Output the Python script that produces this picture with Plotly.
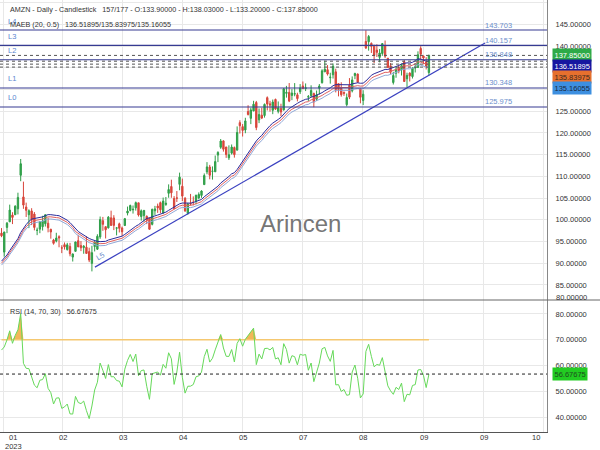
import numpy as np
import plotly.graph_objects as go

# ---------------- data (AMZN daily, 24 Jan 2023 .. 7 Sep 2023) ----------------
# 20 earlier closes (not shown) used by the MA / RSI indicators
warmup_closes = [83.79, 85.25, 83.04, 81.82, 84.18, 84.00, 85.82, 85.14, 83.12, 86.08,
                 87.36, 89.87, 95.09, 95.27, 98.12, 96.05, 95.46, 93.68, 97.25, 97.52]

opens = [
    96.93, 92.56, 98.24, 99.53, 101.09, 101.16,
    102.53, 110.25, 105.26, 102.93, 101.17, 102.04, 101.32, 97.56, 97.85, 98.41, 99.09, 99.21, 97.80, 95.34, 95.10, 96.12, 93.53, 94.28, 93.14,
    93.87, 91.41, 92.74, 95.19, 94.06, 93.60, 93.68, 92.67, 89.97, 93.83, 93.22, 96.06, 99.79, 98.41, 98.14, 100.45, 100.43, 98.07, 99.07, 98.11, 98.69, 101.55, 102.16,
    102.30, 102.75, 103.91, 100.75, 100.96, 100.80, 100.40, 98.95, 102.07, 103.16, 103.95, 101.58, 103.53, 106.10, 107.66, 104.91, 105.04, 108.16, 107.73,
    104.95, 101.47, 103.74, 104.04, 104.27, 105.04, 105.62, 108.10, 111.03, 112.16, 111.15, 111.05, 114.89, 116.69, 118.16, 116.77, 114.27, 115.35, 116.63, 116.04, 122.37, 121.45,
    120.69, 124.92, 123.36, 125.07, 127.01, 123.01, 124.08, 124.02, 128.12, 126.70, 125.21, 127.71, 124.97, 125.64, 125.31, 129.11, 129.33, 128.63, 128.94, 128.77, 129.47,
    130.82, 130.24, 128.25, 128.59, 129.07, 127.75, 130.31, 131.56, 134.06, 134.56, 132.71, 133.39, 134.07, 131.34, 130.31, 129.31, 126.51, 131.00, 129.69, 133.20,
    133.55, 130.15, 127.48, 141.06, 140.99, 140.62, 139.97, 139.07, 137.40, 138.30, 140.05, 137.19, 135.46, 131.62, 133.74, 135.08, 134.50, 136.40, 132.47, 133.78, 132.98, 134.93, 135.06,
    139.46, 137.73, 136.32, 133.90,
]
highs = [
    98.09, 97.24, 99.49, 103.49, 101.74, 103.35,
    106.24, 114.00, 108.78, 103.95, 102.41, 102.67, 101.78, 98.20, 99.68, 100.92, 101.17, 100.49, 97.94, 95.61, 97.01, 96.43, 94.14, 94.78, 94.69,
    94.68, 92.23, 94.96, 96.55, 95.09, 94.17, 96.21, 93.57, 94.02, 95.07, 96.67, 100.75, 100.66, 98.48, 100.85, 102.10, 101.06, 98.30, 99.34, 98.44, 100.42, 103.04, 103.49,
    103.29, 104.20, 103.91, 102.38, 102.20, 101.00, 100.51, 102.57, 103.20, 103.73, 104.20, 105.12, 105.25, 108.15, 109.23, 105.45, 106.62, 110.86, 109.48,
    105.23, 103.90, 105.96, 105.39, 105.76, 106.31, 106.79, 110.67, 113.28, 112.64, 112.29, 114.80, 115.79, 118.60, 118.31, 116.77, 117.14, 117.34, 116.87, 121.50, 122.92, 122.04,
    123.49, 126.38, 125.80, 127.40, 127.37, 125.63, 125.80, 126.78, 128.41, 127.39, 127.69, 127.90, 127.25, 126.73, 130.33, 130.84, 131.49, 130.09, 131.48, 129.26, 131.25,
    131.85, 131.40, 128.73, 130.97, 129.28, 129.77, 131.26, 134.67, 136.65, 135.62, 133.86, 135.99, 134.79, 131.37, 131.66, 129.58, 129.08, 132.63, 133.01, 133.87,
    133.69, 130.23, 129.84, 143.63, 142.54, 140.84, 140.32, 140.41, 139.33, 140.59, 141.28, 137.27, 136.09, 134.07, 135.19, 135.65, 135.95, 136.78, 133.87, 133.95, 135.14, 135.68, 138.79,
    139.96, 137.80, 137.45, 138.03,
]
lows = [
    96.00, 91.52, 96.92, 99.53, 99.01, 101.14,
    101.24, 108.88, 102.52, 100.65, 98.08, 98.78, 97.57, 96.46, 96.91, 97.52, 98.45, 97.11, 95.65, 94.27, 94.80, 93.67, 92.32, 93.14, 92.92,
    91.59, 90.39, 92.66, 93.74, 92.78, 92.18, 92.18, 90.25, 88.12, 92.71, 93.07, 95.61, 97.46, 95.70, 98.00, 98.61, 97.62, 96.40, 97.08, 96.29, 98.56, 101.01, 101.95,
    101.43, 102.11, 100.75, 99.80, 99.57, 99.01, 97.71, 98.71, 101.11, 101.59, 101.52, 101.39, 103.21, 105.08, 105.07, 102.45, 104.10, 106.80, 104.33,
    101.82, 101.15, 103.28, 103.31, 103.55, 104.70, 105.06, 108.05, 110.49, 109.32, 109.25, 111.04, 113.28, 116.34, 115.70, 114.25, 113.78, 115.02, 114.31, 116.02, 119.86, 119.17,
    119.93, 124.02, 122.03, 125.00, 120.63, 122.26, 123.19, 123.53, 125.18, 124.91, 124.32, 125.30, 124.50, 123.85, 125.14, 128.13, 127.10, 127.55, 128.44, 127.26, 128.95,
    130.07, 129.64, 127.37, 128.13, 125.92, 127.35, 128.83, 131.38, 134.06, 133.21, 131.35, 132.53, 129.33, 128.42, 128.35, 128.53, 126.11, 127.79, 129.33, 132.38,
    131.62, 126.82, 126.41, 139.32, 138.95, 138.42, 136.10, 137.49, 136.26, 137.75, 137.23, 135.01, 133.53, 131.15, 132.71, 133.73, 133.22, 131.83, 130.58, 131.85, 132.53, 133.92, 135.00,
    136.88, 135.82, 134.61, 133.20,
]
closes = [
    96.32, 97.18, 99.22, 102.24, 100.55, 103.13,
    105.15, 112.91, 103.39, 102.18, 102.11, 100.05, 98.24, 97.61, 99.54, 99.70, 101.16, 98.15, 97.20, 94.58, 95.79, 95.82, 93.50, 93.76, 94.23,
    92.17, 92.13, 94.90, 93.75, 93.55, 93.92, 92.25, 90.73, 92.43, 94.88, 96.20, 100.04, 98.95, 97.71, 100.61, 98.70, 98.71, 98.13, 98.04, 97.24, 100.25, 102.00, 103.29,
    102.41, 103.95, 101.10, 102.06, 102.17, 99.92, 97.83, 102.40, 102.51, 102.74, 102.30, 104.30, 103.81, 106.96, 106.21, 102.57, 104.98, 109.82, 105.45,
    102.05, 103.63, 103.65, 104.00, 105.66, 105.83, 106.62, 110.19, 112.18, 110.26, 111.20, 113.40, 115.50, 118.15, 116.25, 115.01, 114.99, 116.75, 115.00, 120.11, 121.66, 120.58,
    122.77, 124.25, 125.30, 126.61, 121.23, 124.25, 123.43, 126.57, 126.66, 126.42, 127.11, 125.49, 125.78, 124.83, 130.15, 129.33, 127.33, 129.18, 129.04, 127.90, 130.36,
    130.22, 130.38, 128.36, 129.78, 127.13, 128.78, 130.80, 134.30, 134.68, 133.56, 132.83, 135.36, 129.96, 130.00, 128.80, 129.13, 128.15, 128.25, 132.21, 133.68,
    131.69, 128.21, 128.91, 139.57, 142.22, 139.94, 137.85, 138.56, 138.41, 140.57, 137.67, 135.07, 133.98, 133.22, 134.68, 134.25, 135.52, 131.84, 133.26, 133.14, 134.91, 135.07, 138.01,
    138.12, 137.27, 135.36, 137.85,
]

symbol_title = "AMZN - Daily - Candlestick"
bar_count_text = "157/177"
ma_period = 20
env_pct = 0.5
ma_readout = [136.51895, 135.83975, 135.16055]   # upper / middle / lower
rsi_period = 14
rsi_levels = [70, 30]
rsi_readout = 56.67675

level_names = ["L4", "L3", "L2", "L1", "L0"]
level_values = [143.703, 140.157, 136.848, 130.348, 125.975]
trend_name = "L5"
trend_x = [34.1, 176.5]
trend_y = [89.1, 140.7]

price_ticks = [85, 90, 95, 100, 105, 110, 115, 120, 125, 130, 135, 140, 145, 150]
price_ticks_hidden = [130, 135]      # covered by the value tags on the right
price_extra_label = 80
rsi_ticks = [40, 50, 60, 70, 80]
x_grid = [0.55, 22.4, 44.3, 66.2, 88.1, 110.0, 131.9, 154.2, 176.1, 198.0]
x_labels = ["01", "02", "03", "04", "05", "07", "08", "09", "09", "10"]
year_label = "2023"
watermark = "Arincen"

# ---------------- indicators ----------------
n = len(closes)
idx = np.arange(n)
all_c = np.array(warmup_closes + closes, dtype=float)
w = len(warmup_closes)

sma_all = np.full(len(all_c), np.nan)
for k in range(ma_period - 1, len(all_c)):
    sma_all[k] = all_c[k - ma_period + 1:k + 1].mean()
sma = sma_all[w:]
upper = sma * (1 + env_pct / 100)
lower = sma * (1 - env_pct / 100)

delta = np.diff(all_c)
gain = np.clip(delta, 0, None)
loss = np.clip(-delta, 0, None)
rsi_all = np.full(len(all_c), np.nan)
ag = gain[:rsi_period].mean()
al = loss[:rsi_period].mean()
rsi_all[rsi_period] = 100 - 100 / (1 + ag / al)
for k in range(rsi_period, len(delta)):
    ag = (ag * (rsi_period - 1) + gain[k]) / rsi_period
    al = (al * (rsi_period - 1) + loss[k]) / rsi_period
    rsi_all[k + 1] = 100 - 100 / (1 + ag / al)
rsi = rsi_all[w:]

# ---------------- figure ----------------
FONT = "Liberation Sans, Arial, sans-serif"
TXT = "#333333"
GRID = "#e8e8e8"
SPLIT = 132 / 432  # panel split (paper)
FS = 7.5
FH = 7.2

fig = go.Figure()

fig.add_trace(go.Scatter(x=idx, y=upper, mode="lines", line=dict(color="#2a2a9c", width=1),
                         hoverinfo="skip", xaxis="x", yaxis="y"))
fig.add_trace(go.Scatter(x=idx, y=sma, mode="lines", line=dict(color="#e06060", width=1),
                         hoverinfo="skip", xaxis="x", yaxis="y"))
fig.add_trace(go.Scatter(x=idx, y=lower, mode="lines", line=dict(color="#90a8d8", width=1),
                         hoverinfo="skip", xaxis="x", yaxis="y"))

fig.add_trace(go.Candlestick(
    x=idx, open=opens, high=highs, low=lows, close=closes,
    increasing=dict(line=dict(color="#2f9e48", width=1), fillcolor="#33a84e"),
    decreasing=dict(line=dict(color="#d8453a", width=1), fillcolor="#d8453a"),
    whiskerwidth=0, hoverinfo="skip", xaxis="x", yaxis="y"))

fig.add_trace(go.Scatter(x=trend_x, y=trend_y, mode="lines", line=dict(color="#3a40c0", width=1.2),
                         hoverinfo="skip", xaxis="x", yaxis="y"))

# RSI panel
fig.add_trace(go.Scatter(x=idx, y=[rsi_levels[0]] * n, mode="lines", line=dict(color="#f5c870", width=1.5),
                         hoverinfo="skip", xaxis="x2", yaxis="y2"))
fig.add_trace(go.Scatter(x=idx, y=np.maximum(rsi, rsi_levels[0]), mode="lines", line=dict(width=0),
                         fill="tonexty", fillcolor="rgba(240,170,60,0.85)",
                         hoverinfo="skip", xaxis="x2", yaxis="y2"))
fig.add_trace(go.Scatter(x=idx, y=rsi, mode="lines", line=dict(color="#66d95a", width=1),
                         hoverinfo="skip", xaxis="x2", yaxis="y2"))

shapes = []
for v in level_values:
    shapes.append(dict(type="line", xref="paper", x0=0, x1=1, yref="y", y0=v, y1=v,
                       line=dict(color="#363b92", width=1.2), layer="above"))
for v in [closes[-1]] + ma_readout:
    shapes.append(dict(type="line", xref="paper", x0=0, x1=1, yref="y", y0=v, y1=v,
                       line=dict(color="#555555", width=1, dash="dot"), layer="above"))
shapes.append(dict(type="line", xref="paper", x0=0, x1=1, yref="y2", y0=rsi_readout, y1=rsi_readout,
                   line=dict(color="#222222", width=1, dash="3px,3px"), layer="above"))
shapes.append(dict(type="line", xref="paper", x0=0, x1=600 / 547, yref="paper", y0=SPLIT, y1=SPLIT,
                   line=dict(color="#666666", width=1)))

ann = []
fh = dict(family=FONT, size=FH, color=TXT)
fs = dict(family=FONT, size=FS, color=TXT)
ann.append(dict(xref="paper", yref="paper", x=8 / 547, y=1 - 10 / 432, xanchor="left", yanchor="middle",
                showarrow=False, font=fh,
                text=f"{symbol_title}   {bar_count_text} - O:{opens[-1]:.5f} - H:{highs[-1]:.5f} - "
                     f"L:{lows[-1]:.5f} - C:{closes[-1]:.5f}"))
for nm, v in zip(level_names, level_values):
    ann.append(dict(xref="paper", yref="y", x=6 / 547, y=v, xanchor="left", yanchor="middle", yshift=9,
                    showarrow=False, text=nm, font=dict(family=FONT, size=FS, color="#5b86d0")))
    ann.append(dict(xref="paper", yref="y", x=483 / 547, y=v, xanchor="left", yanchor="middle", yshift=5,
                    showarrow=False, text=f"{v:.3f}", font=dict(family=FONT, size=FS, color="#6d8fcc")))
ann.append(dict(xref="paper", yref="paper", x=8 / 547, y=1 - 25 / 432, xanchor="left", yanchor="middle",
                showarrow=False, font=fh,
                text=f"MAEB ({ma_period}, {env_pct})   " + "/".join(f"{v:.5f}" for v in ma_readout)))
ann.append(dict(xref="x", yref="y", x=trend_x[0], y=trend_y[0], xanchor="center", yanchor="middle",
                xshift=5, yshift=11, textangle=-30, showarrow=False, text=trend_name,
                font=dict(family=FONT, size=FS, color="#6d8fcc")))
ann.append(dict(xref="paper", yref="paper", x=300 / 547, y=(432 - 223) / 432, xanchor="center",
                yanchor="middle", showarrow=False, text=watermark,
                font=dict(family=FONT, size=24, color="rgba(100,100,100,0.9)")))

# right-side value tags
tags = [(closes[-1], "#2eaa48", "#ffffff", 0),
        (ma_readout[0], "#1616a0", "#ffffff", -4.5),
        (ma_readout[1], "#e6702e", "#3a2a20", -12.8),
        (ma_readout[2], "#3d8fe0", "#1a2a40", -20.9)]
for v, bg, fc, ys in tags:
    ann.append(dict(xref="paper", yref="y", x=1, y=v, xanchor="left", yanchor="middle", xshift=5, yshift=ys,
                    showarrow=False, text=f"{v:.5f}", bgcolor=bg, borderpad=1.5,
                    font=dict(family=FONT, size=FS, color=fc)))
ann.append(dict(xref="paper", yref="y2", x=1, y=rsi_readout, xanchor="left", yanchor="middle", xshift=5,
                showarrow=False, text=f"{rsi_readout:.5f}", bgcolor="#22cc22", borderpad=1.5,
                font=dict(family=FONT, size=FS, color="#1e4e1e")))
ann.append(dict(xref="paper", yref="paper", x=1, y=(432 - 297) / 432, xanchor="left", yanchor="middle",
                xshift=7, showarrow=False, text=f"{price_extra_label:.5f}", font=fs))
ann.append(dict(xref="paper", yref="paper", x=8 / 547, y=(432 - 311) / 432, xanchor="left", yanchor="middle",
                showarrow=False, font=fh,
                text=f"RSI ({rsi_period}, {rsi_levels[0]}, {rsi_levels[1]})   {rsi_readout:.5f}"))

# x labels
for i, (xv, lab) in enumerate(zip(x_grid, x_labels)):
    if i == 0:
        xa, xs = "left", 4
    elif i == len(x_grid) - 1:
        xa, xs = "right", -2
    else:
        xa, xs = "center", 0
    ann.append(dict(xref="x2", yref="paper", x=xv, y=-5 / 432, xanchor=xa, yanchor="middle", xshift=xs,
                    showarrow=False, text=lab, font=fs))
ann.append(dict(xref="x2", yref="paper", x=x_grid[0], y=-14 / 432, xanchor="left", yanchor="middle",
                xshift=0, showarrow=False, text=year_label, font=fs))

xr = [-0.55, 199.1]
xcommon = dict(range=xr, tickvals=x_grid, showticklabels=False, showgrid=True, gridcolor=GRID,
               gridwidth=1, zeroline=False, ticks="", fixedrange=True)
ycommon = dict(side="right", showgrid=True, gridcolor=GRID, zeroline=False, showline=True,
               linecolor="#888888", linewidth=1, ticks="outside", ticklen=6, tickcolor="rgba(0,0,0,0)",
               tickfont=dict(family=FONT, size=FS, color=TXT))

fig.update_layout(
    width=600, height=450,
    margin=dict(l=0, r=53, t=0, b=18),
    paper_bgcolor="white", plot_bgcolor="white",
    showlegend=False,
    xaxis=dict(domain=[0, 1], anchor="y", rangeslider=dict(visible=False), **xcommon),
    xaxis2=dict(domain=[0, 1], anchor="y2", matches="x", showline=True, linecolor="#555555",
                rangeslider=dict(visible=False), **xcommon),
    yaxis=dict(domain=[SPLIT, 1], anchor="x", range=[81.53, 150.61], tickvals=price_ticks,
               ticktext=["" if t in price_ticks_hidden else f"{t:.5f}" for t in price_ticks], **ycommon),
    yaxis2=dict(domain=[0, SPLIT], anchor="x2", range=[34.2, 85.4], tickvals=rsi_ticks,
                ticktext=[f"{t:.5f}" for t in rsi_ticks], **ycommon),
    shapes=shapes,
    annotations=ann,
)

fig.write_html("out.html")
